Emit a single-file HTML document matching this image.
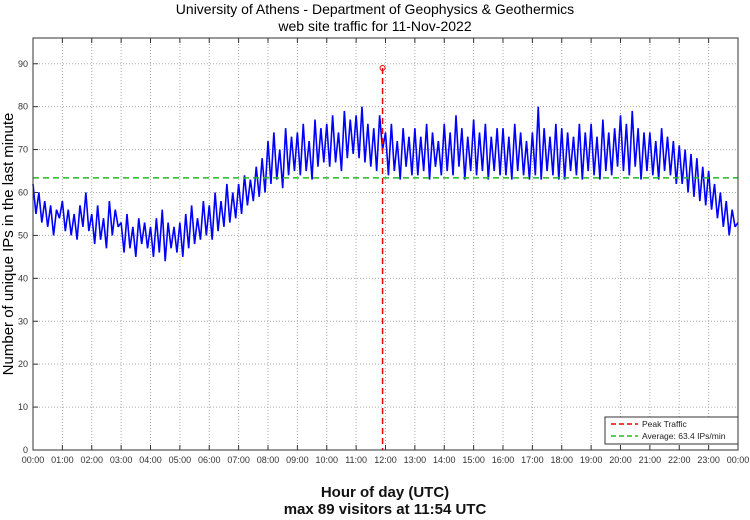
<!DOCTYPE html>
<html><head><meta charset="utf-8"><style>
body{margin:0;background:#fff;width:750px;height:515px;overflow:hidden}
svg{font-family:"Liberation Sans",sans-serif}
</style></head><body>
<svg id="chart" width="750" height="515">
<text x="375" y="14" text-anchor="middle" font-size="14">University of Athens - Department of Geophysics &amp; Geothermics</text>
<text x="375" y="31" text-anchor="middle" font-size="14">web site traffic for 11-Nov-2022</text>
<text x="385" y="497" text-anchor="middle" font-size="15" font-weight="bold" fill="#111">Hour of day (UTC)</text>
<text x="385" y="514" text-anchor="middle" font-size="15" font-weight="bold" fill="#111">max 89 visitors at 11:54 UTC</text>
<text transform="translate(13,244) rotate(-90)" text-anchor="middle" font-size="15">Number of unique IPs in the last minute</text>
<g id="grid"></g><g id="series"></g><g id="axes"></g>
</svg>
<script>
const xTickLabels=["00:00","01:00","02:00","03:00","04:00","05:00","06:00","07:00","08:00","09:00","10:00","11:00","12:00","13:00","14:00","15:00","16:00","17:00","18:00","19:00","20:00","21:00","22:00","23:00","00:00"];
const yTicks=[0,10,20,30,40,50,60,70,80,90];
const visitors=[62,55,60,53,58,52,57,50,56,54,58,51,56,50,55,49,57,52,60,51,55,48,57,49,54,47,58,50,56,52,53,46,55,47,52,45,54,48,53,47,52,45,54,46,56,44,53,47,52,46,53,45,55,47,57,48,54,49,58,50,57,49,60,51,58,52,62,53,60,54,62,55,64,57,63,58,66,59,68,60,72,62,74,63,70,61,75,64,73,65,74,64,76,65,72,63,77,66,75,67,76,66,78,67,74,65,79,68,77,69,78,68,80,67,76,66,75,65,78,70,74,64,76,65,72,63,75,66,73,64,75,64,73,65,76,63,74,66,72,64,76,65,74,64,78,66,75,63,73,65,77,64,74,65,76,63,73,65,75,64,75,64,73,63,76,65,74,64,72,63,74,64,80,63,75,65,73,64,76,63,75,63,74,65,73,64,76,63,74,65,76,64,73,63,77,65,74,64,75,66,78,65,76,64,79,66,75,63,74,65,74,64,72,63,75,65,73,64,72,62,71,62,70,60,69,59,68,58,66,57,65,56,62,54,60,52,58,50,56,52,53];
const peakMinute=[714]; const peakValue=[89]; const average=[63.4];
const L=33,R=738,T=38,B=450,yMax=96;
const xs=m=>L+(R-L)*m/1440, ys=v=>B-(B-T)*v/yMax;
const NS="http://www.w3.org/2000/svg";
function mk(p,t,a){const e=document.createElementNS(NS,t);for(const k in a)e.setAttribute(k,a[k]);p.appendChild(e);return e;}
const g=document.getElementById('grid'),s=document.getElementById('series'),ax=document.getElementById('axes');
xTickLabels.forEach((lab,i)=>{const x=xs(i*60);
 if(i>0&&i<24){const l=mk(g,'line',{x1:x,x2:x,y1:T,y2:B,stroke:'#aaa','stroke-dasharray':'1,2','stroke-width':1});}
 const tk=mk(ax,'line',{x1:x,x2:x,y1:B,y2:B-5,stroke:'#333'});
 const tt=mk(ax,'line',{x1:x,x2:x,y1:T,y2:T+5,stroke:'#333'});
 const t=mk(ax,'text',{x:x,y:B+13,'text-anchor':'middle','font-size':9,fill:'#333'});t.textContent=lab;});
yTicks.forEach(v=>{const y=ys(v);
 if(v>0){const l=mk(g,'line',{x1:L,x2:R,y1:y,y2:y,stroke:'#aaa','stroke-dasharray':'1,2'});}
 const tk=mk(ax,'line',{x1:L,x2:L+5,y1:y,y2:y,stroke:'#333'});
 const t=mk(ax,'text',{x:L-5,y:y+3,'text-anchor':'end','font-size':9,fill:'#333'});t.textContent=v;});
const step=1440/(visitors.length-1);
const pl=mk(s,'polyline',{points:visitors.map((v,i)=>xs(i*step)+','+ys(v)).join(' '),fill:'none',stroke:'#0000ff','stroke-width':1.6,'stroke-linejoin':'bevel'});

const av=mk(s,'line',{x1:L,x2:R,y1:ys(average[0]),y2:ys(average[0]),stroke:'#22bb22','stroke-width':1.5,'stroke-dasharray':'6,4'});

const pk=mk(s,'line',{x1:xs(peakMinute[0]),x2:xs(peakMinute[0]),y1:ys(peakValue[0]),y2:B,stroke:'#ee0000','stroke-width':1.5,'stroke-dasharray':'6,4'});

const pm=mk(s,'circle',{cx:xs(peakMinute[0]),cy:ys(peakValue[0]),r:2.5,fill:'none',stroke:'#ee0000'});

const fr=mk(ax,'rect',{x:L,y:T,width:R-L,height:B-T,fill:'none',stroke:'#333'});

const lg=mk(ax,'g',{});
mk(lg,'rect',{x:605,y:417,width:133,height:27,fill:'#fff',stroke:'#333'});
[['Peak Traffic','#ee0000',427],['Average: 63.4 IPs/min','#22bb22',439]].forEach(([lab,c,y])=>{
 const e=mk(lg,'line',{x1:611,x2:638,y1:y-3,y2:y-3,stroke:c,'stroke-width':1.5,'stroke-dasharray':'5,3'});
 const t=mk(lg,'text',{x:642,y:y,'font-size':8.5,fill:'#222'});t.textContent=lab;});
</script>
</body></html>
